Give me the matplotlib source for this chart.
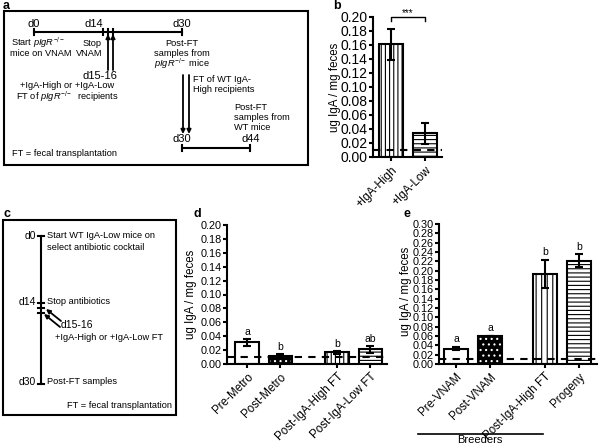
import numpy as np
import matplotlib.pyplot as plt
from matplotlib.patches import Rectangle

plt.rcParams['font.family'] = ['Liberation Sans', 'DejaVu Sans']
plt.rcParams['mathtext.fontset'] = 'custom'
plt.rcParams['mathtext.rm'] = 'Liberation Sans'
plt.rcParams['mathtext.it'] = 'Liberation Sans:italic'
plt.rcParams['hatch.linewidth'] = 0.8

# panel b
b_labels = ['+IgA-High', '+IgA-Low']
b_vals = [0.161, 0.034]
b_err = [0.022, 0.015]
b_style = ['vert', 'horiz']

# panel d
d_labels = ['Pre-Metro', 'Post-Metro', 'Post-IgA-High FT', 'Post-IgA-Low FT']
d_vals = [0.031, 0.012, 0.017, 0.021]
d_err = [0.005, 0.002, 0.002, 0.005]
d_letters = ['a', 'b', 'b', 'ab']
d_style = ['plain', 'dots', 'vert', 'horiz']

# panel e
e_labels = ['Pre-VNAM', 'Post-VNAM', 'Post-IgA-High FT', 'Progeny']
e_vals = [0.033, 0.061, 0.193, 0.221]
e_err = [0.003, 0.0, 0.030, 0.014]
e_letters = ['a', 'a', 'b', 'b']
e_style = ['plain', 'dots', 'vert', 'horiz']

detect_limit = 0.01
ylab = 'ug IgA / mg feces'


def draw_bars(ax, pos, vals, errs, styles, vert='||||', horiz='----'):
    w = 0.7
    for p, v, s in zip(pos, vals, styles):
        if s == 'dots':
            ax.bar(p, v, w, color='black', edgecolor='white', hatch='...', lw=0, zorder=2)
            ax.bar(p, v, w, fill=False, edgecolor='black', lw=1.5, zorder=2)
        else:
            h = {'plain': None, 'vert': vert, 'horiz': horiz}[s]
            ax.bar(p, v, w, color='white', edgecolor='black', hatch=h, lw=1.5, zorder=2)
    ax.errorbar(pos, vals, yerr=errs, fmt='none', ecolor='black', elinewidth=1.5,
                capsize=3, capthick=1.5, zorder=3)
    ax.axhline(detect_limit, color='black', lw=1.5, ls=(0, (3.5, 3)), zorder=4)


def style_axis(ax, pos, labels, ymax, ysize, xsize, xlim):
    ax.spines['top'].set_visible(False)
    ax.spines['right'].set_visible(False)
    ax.spines['left'].set_linewidth(1.5)
    ax.spines['bottom'].set_linewidth(1.5)
    ax.set_ylim(0, ymax)
    ax.set_xlim(*xlim)
    ticks = np.arange(0, ymax + 0.001, 0.02)
    ax.set_yticks(ticks)
    ax.set_yticklabels(['%.2f' % t for t in ticks])
    ax.set_xticks(pos)
    ax.set_xticklabels(labels, rotation=45, ha='right', rotation_mode='anchor')
    ax.tick_params(axis='y', direction='out', length=3, width=1.5, labelsize=ysize, pad=1)
    ax.tick_params(axis='x', direction='out', length=3, width=1.5, labelsize=xsize, pad=2)
    ax.patch.set_visible(False)


fig = plt.figure(figsize=(6, 4.45), dpi=100)

# diagram layer in pixel coordinates
dg = fig.add_axes([0, 0, 1, 1])
dg.set_xlim(0, 600)
dg.set_ylim(445, 0)
dg.axis('off')

small = 6.7
pig = r'$\mathit{pIgR}^{-/-}$'
arrow = dict(arrowstyle='-|>', lw=1.3, color='k', mutation_scale=6, shrinkA=0, shrinkB=0)

# ---- panel a
dg.text(3, 6, 'a', fontsize=9, fontweight='bold', va='center')
dg.add_patch(Rectangle((4, 11), 304, 154, fill=False, lw=1.5))
dg.plot([34, 182], [32, 32], color='k', lw=1.5)
for x in [34, 103, 108, 113, 182]:
    dg.plot([x, x], [29, 35], color='k', lw=1.5)
dg.text(34, 24, 'd0', fontsize=8, ha='center', va='center')
dg.text(94, 24, 'd14', fontsize=8, ha='center', va='center')
dg.text(182, 24, 'd30', fontsize=8, ha='center', va='center')
dg.text(11, 43, 'Start ' + pig, fontsize=small, va='center')
dg.text(10, 54, 'mice on VNAM', fontsize=small, va='center')
dg.text(102, 43, 'Stop', fontsize=small, ha='right', va='center')
dg.text(102, 54, 'VNAM', fontsize=small, ha='right', va='center')
for x in [108, 113]:
    dg.annotate('', xy=(x, 34), xytext=(x, 70), arrowprops=arrow)
dg.text(100, 76, 'd15-16', fontsize=8, ha='center', va='center')
dg.text(67, 86, '+IgA-High or +IgA-Low', fontsize=small, ha='center', va='center')
dg.text(67, 97, 'FT of ' + pig + '  recipients', fontsize=small, ha='center', va='center')
dg.text(182, 43, 'Post-FT', fontsize=small, ha='center', va='center')
dg.text(182, 53, 'samples from', fontsize=small, ha='center', va='center')
dg.text(182, 64, pig + ' mice', fontsize=small, ha='center', va='center')
for x in [183, 189]:
    dg.annotate('', xy=(x, 134), xytext=(x, 75), arrowprops=arrow)
dg.text(193, 79, 'FT of WT IgA-', fontsize=small, va='center')
dg.text(193, 89, 'High recipients', fontsize=small, va='center')
dg.text(234, 107, 'Post-FT', fontsize=small, va='center')
dg.text(234, 117, 'samples from', fontsize=small, va='center')
dg.text(234, 128, 'WT mice', fontsize=small, va='center')
dg.text(182, 139, 'd30', fontsize=8, ha='center', va='center')
dg.text(251, 139, 'd44', fontsize=8, ha='center', va='center')
dg.plot([182, 250], [148, 148], color='k', lw=1.5)
for x in [182, 250]:
    dg.plot([x, x], [145, 151], color='k', lw=1.5)
dg.text(12, 154, 'FT = fecal transplantation', fontsize=small, va='center')

# ---- panel c
dg.text(3, 214, 'c', fontsize=9, fontweight='bold', va='center')
dg.add_patch(Rectangle((3, 220), 173, 195, fill=False, lw=1.5))
dg.plot([41, 41], [236, 384], color='k', lw=1.5)
for y in [236, 303, 308, 313, 384]:
    dg.plot([38, 44], [y, y], color='k', lw=1.5)
dg.text(36, 236, 'd0', fontsize=7.5, ha='right', va='center')
dg.text(47, 236, 'Start WT IgA-Low mice on', fontsize=small, va='center')
dg.text(47, 247, 'select antibiotic cocktail', fontsize=small, va='center')
dg.text(36, 302, 'd14', fontsize=7.5, ha='right', va='center')
dg.text(47, 302, 'Stop antibiotics', fontsize=small, va='center')
dg.annotate('', xy=(46, 309), xytext=(61, 321), arrowprops=arrow)
dg.annotate('', xy=(44, 314), xytext=(60, 327), arrowprops=arrow)
dg.text(61, 325, 'd15-16', fontsize=7.5, va='center')
dg.text(55, 337, '+IgA-High or +IgA-Low FT', fontsize=small, va='center')
dg.text(36, 382, 'd30', fontsize=7.5, ha='right', va='center')
dg.text(47, 382, 'Post-FT samples', fontsize=small, va='center')
dg.text(172, 406, 'FT = fecal transplantation', fontsize=small, ha='right', va='center')

# panel letters for charts
dg.text(333, 6, 'b', fontsize=9, fontweight='bold', va='center')
dg.text(193, 214, 'd', fontsize=9, fontweight='bold', va='center')
dg.text(403, 214, 'e', fontsize=9, fontweight='bold', va='center')

# ---- panel b
axb = fig.add_axes([373 / 600, 1 - 157 / 445, 69 / 600, 140 / 445])
b_pos = [0, 1]
draw_bars(axb, b_pos, b_vals, b_err, b_style)
style_axis(axb, b_pos, b_labels, 0.20, 10, 8.5, (-0.53, 1.5))
axb.set_ylabel(ylab, fontsize=8.3)
axb.yaxis.set_label_coords(-0.47, 0.5)
axb.plot([0, 0, 1, 1], [0.194, 0.2, 0.2, 0.194], color='k', lw=1, clip_on=False)
axb.text(0.5, 0.199, '***', fontsize=7, ha='center', va='bottom')

# ---- panel d
axd = fig.add_axes([227 / 600, 1 - 364 / 445, 160 / 600, 139 / 445])
d_pos = [0, 1, 2.7, 3.7]
draw_bars(axd, d_pos, d_vals, d_err, d_style)
style_axis(axd, d_pos, d_labels, 0.20, 7.8, 8.4, (-0.6, 4.2))
axd.set_ylabel(ylab, fontsize=8.3)
axd.yaxis.set_label_coords(-0.19, 0.5)
for p, v, er, t in zip(d_pos, d_vals, d_err, d_letters):
    axd.annotate(t, (p, v + er), xytext=(0, 1.5), textcoords='offset points',
                 ha='center', va='bottom', fontsize=7.5)

# ---- panel e
axe = fig.add_axes([439 / 600, 1 - 364 / 445, 158 / 600, 140 / 445])
e_pos = [0, 1, 2.6, 3.6]
draw_bars(axe, e_pos, e_vals, e_err, e_style, vert='|||', horiz='----')
style_axis(axe, e_pos, e_labels, 0.30, 7.8, 8.3, (-0.5, 4.13))
axe.set_ylabel(ylab, fontsize=8.3)
axe.yaxis.set_label_coords(-0.17, 0.52)
for p, v, er, t in zip(e_pos, e_vals, e_err, e_letters):
    axe.annotate(t, (p, v + er), xytext=(0, 2), textcoords='offset points',
                 ha='center', va='bottom', fontsize=7.5)

# breeders bracket
dg.plot([418, 543], [434, 434], color='k', lw=1.2)
dg.text(480, 435, 'Breeders', fontsize=8, ha='center', va='top')

fig.savefig('out.png', dpi=100)
